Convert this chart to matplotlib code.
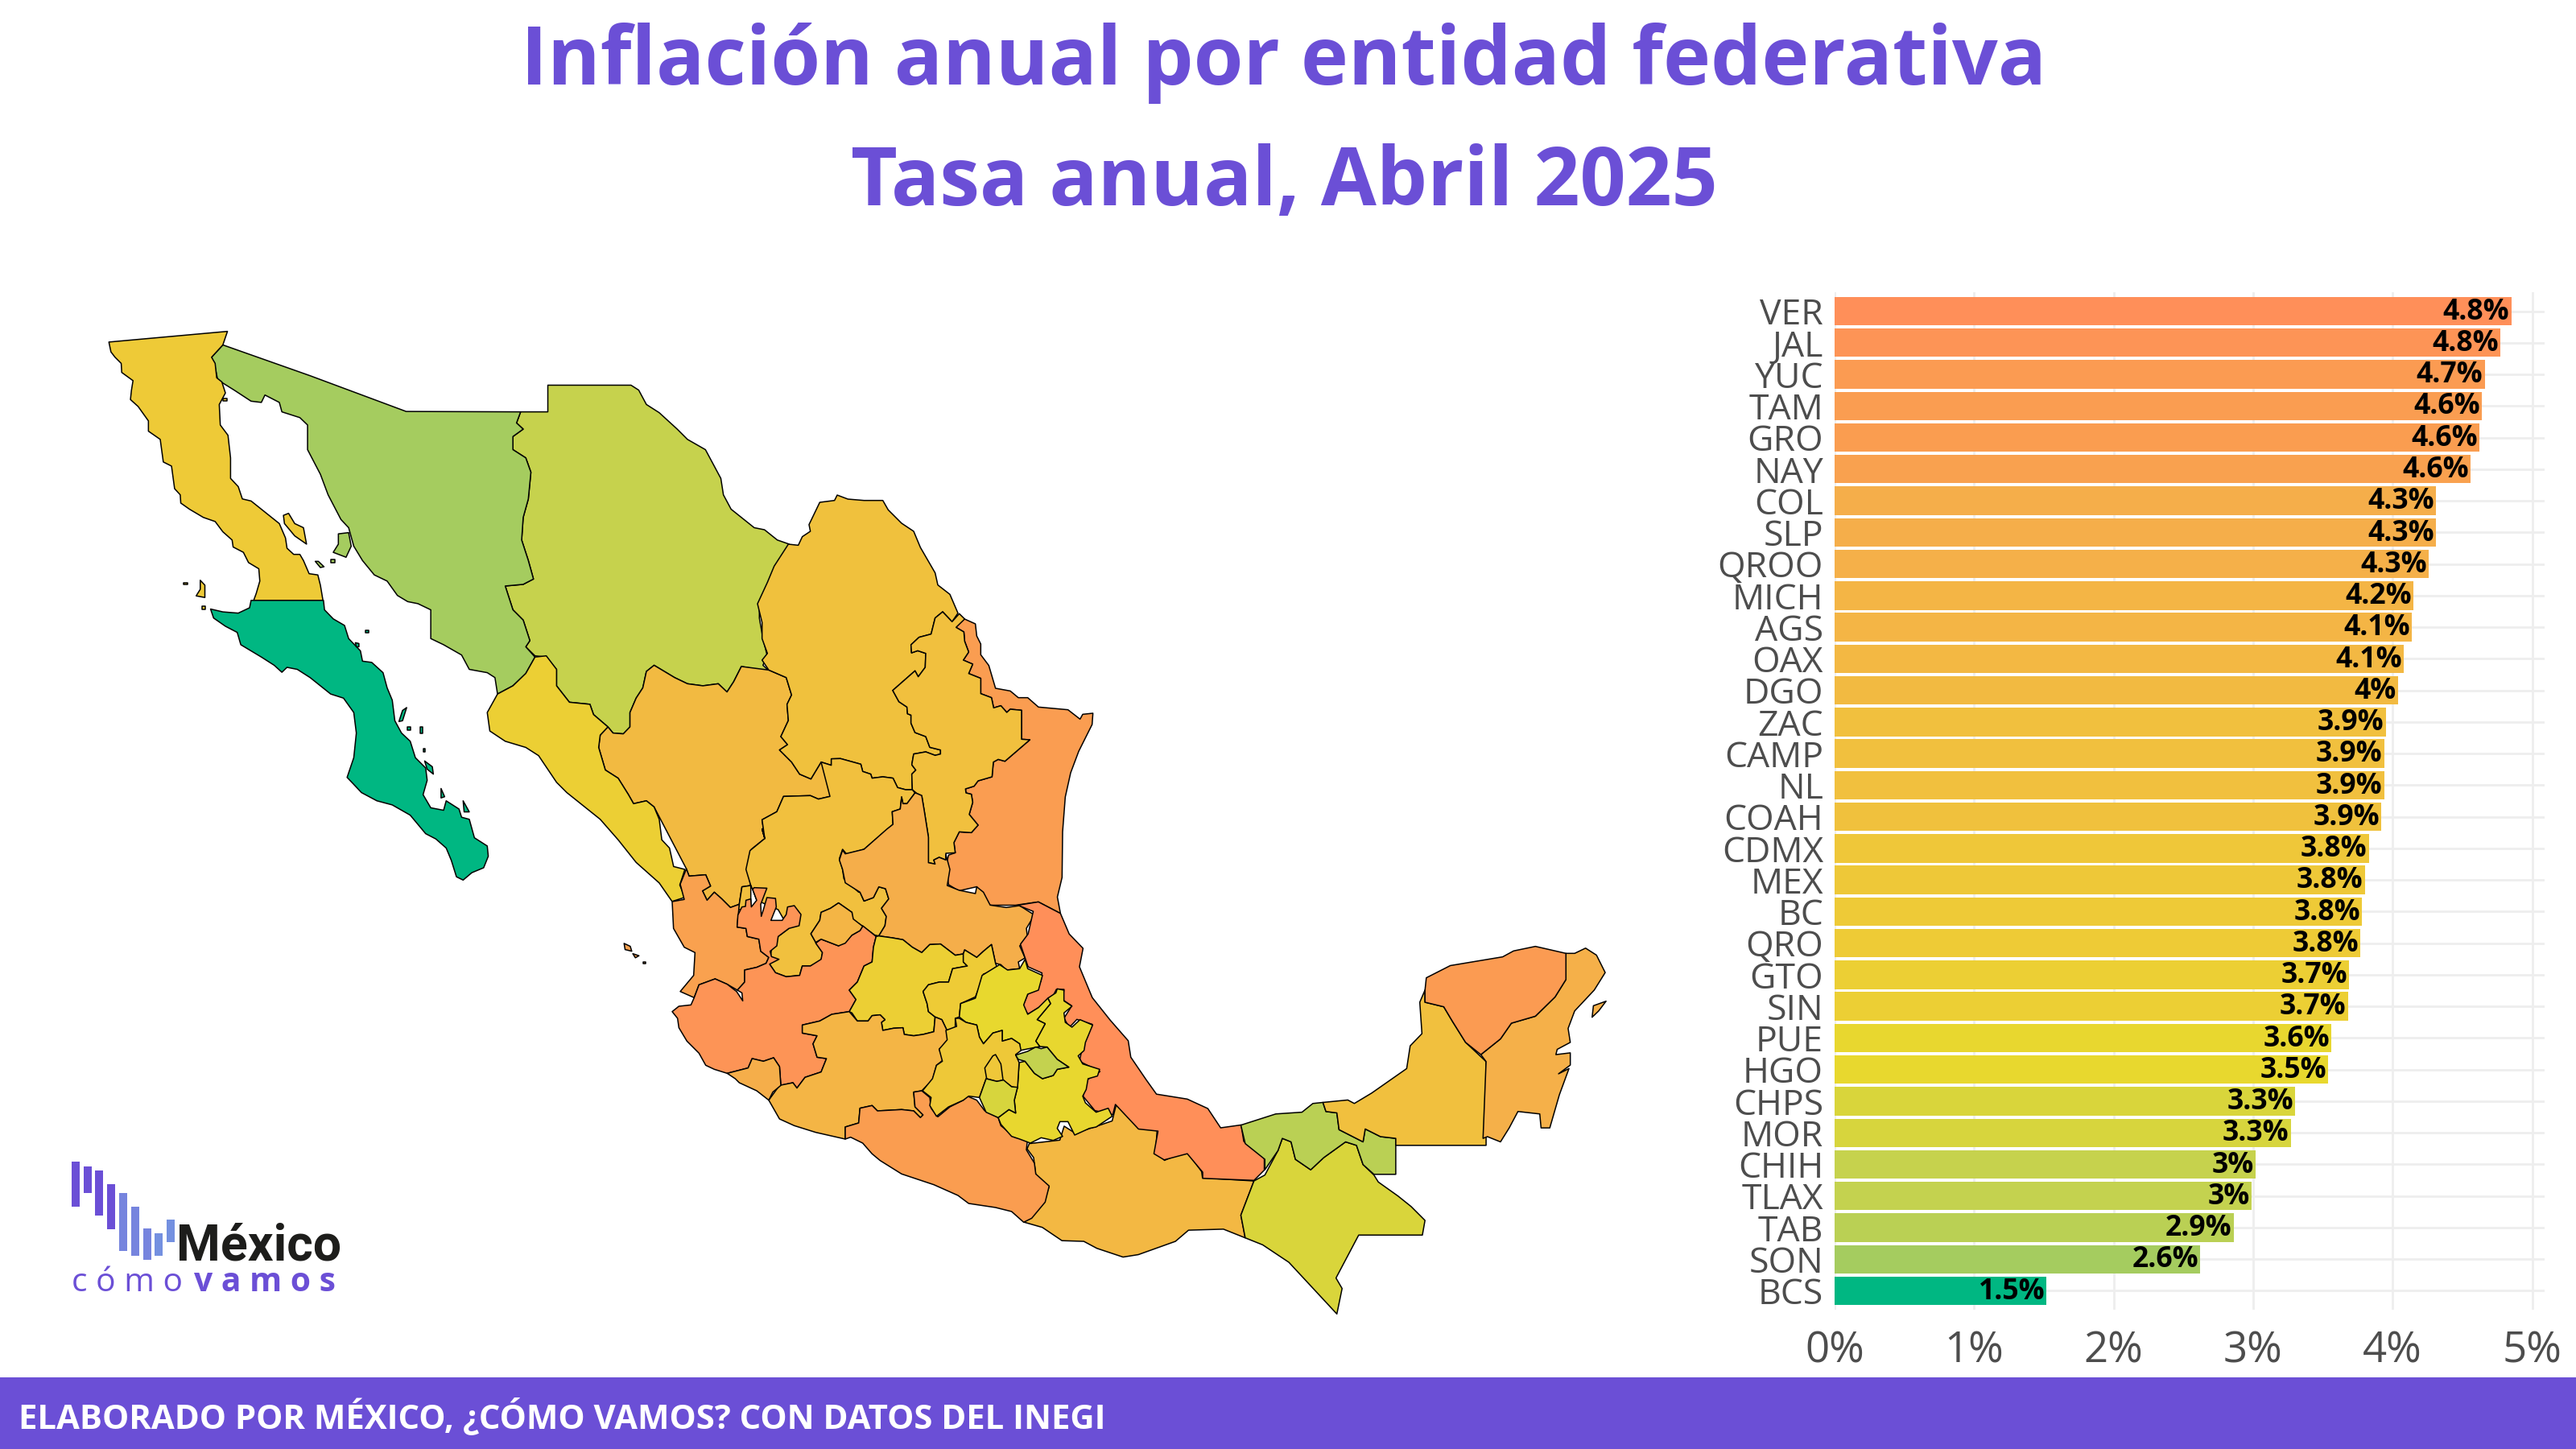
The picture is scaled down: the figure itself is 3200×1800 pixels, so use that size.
import matplotlib
matplotlib.use("Agg")
import matplotlib.pyplot as plt
from matplotlib.colors import LinearSegmentedColormap, Normalize
from matplotlib.patches import Polygon, Rectangle


def traced(x0, y0, sx, sy):
    return lambda pts: [(x0 + x / sx, y0 + y / sy) for x, y in pts]


z1 = traced(60, 380, 1.568, 1.96)
z2 = traced(700, 900, 1.568, 1.96)
z3 = traced(1200, 1000, 1.845, 2.306)
z7 = traced(840, 600, 3, 3)
z8 = traced(800, 1030, 3, 3)
z9 = traced(1060, 1180, 3, 3)

# bars, sorted as in the chart
states = ["VER", "JAL", "YUC", "TAM", "GRO", "NAY", "COL", "SLP", "QROO", "MICH", "AGS",
          "OAX", "DGO", "ZAC", "CAMP", "NL", "COAH", "CDMX", "MEX", "BC", "QRO", "GTO",
          "SIN", "PUE", "HGO", "CHPS", "MOR", "CHIH", "TLAX", "TAB", "SON", "BCS"]
inflation = [4.85, 4.77, 4.66, 4.64, 4.62, 4.56, 4.31, 4.31, 4.26, 4.15, 4.14,
             4.08, 4.04, 3.95, 3.94, 3.94, 3.92, 3.83, 3.80, 3.78, 3.77, 3.69,
             3.68, 3.56, 3.54, 3.30, 3.27, 3.02, 2.99, 2.86, 2.62, 1.52]
value_labels = ["4.8%", "4.8%", "4.7%", "4.6%", "4.6%", "4.6%", "4.3%", "4.3%", "4.3%", "4.2%", "4.1%",
                "4.1%", "4%", "3.9%", "3.9%", "3.9%", "3.9%", "3.8%", "3.8%", "3.8%", "3.8%", "3.7%",
                "3.7%", "3.6%", "3.5%", "3.3%", "3.3%", "3%", "3%", "2.9%", "2.6%", "1.5%"]
x_ticks = [0, 1, 2, 3, 4, 5]
x_tick_labels = ["0%", "1%", "2%", "3%", "4%", "5%"]

# colour scale of the chart
scale_values = [1.52, 2.62, 2.99, 3.30, 3.54, 3.78, 4.08, 4.31, 4.62, 4.85]
scale_colors = ["#00B782", "#A5CC5F", "#C4D24F", "#D9D53B", "#E8D82E", "#EECA37",
                "#F3B843", "#F5AE4A", "#FA9E50", "#FF8F59"]

TITLE_1 = "Inflación anual por entidad federativa"
TITLE_2 = "Tasa anual, Abril 2025"
FOOTER = "ELABORADO POR MÉXICO, ¿CÓMO VAMOS? CON DATOS DEL INEGI"

# state outlines
BC = z1([(118, 88), (349, 62), (340, 95), (318, 125), (325, 140), (328, 175), (338, 185), (345, 212), (333, 240),
         (335, 290), (350, 315), (355, 370), (355, 420), (370, 440), (378, 470), (395, 475), (420, 500), (450, 530),
         (462, 565), (465, 590), (478, 605), (490, 605), (497, 620), (508, 652), (525, 655), (530, 680), (535, 717),
         (400, 717), (405, 700), (412, 670), (410, 640), (390, 625), (380, 600), (360, 587), (358, 570), (340, 550),
         (325, 525), (302, 515), (275, 495), (258, 480), (257, 460), (246, 445), (240, 390), (224, 380), (218, 325),
         (195, 305), (195, 280), (175, 245), (160, 228), (162, 205), (165, 182), (143, 162), (142, 140), (130, 125),
         (122, 112)])
BC_ISLANDS = [z1([(458, 510), (468, 505), (480, 530), (497, 540), (503, 580), (480, 560), (460, 530)]),
              z1([(296, 668), (305, 680), (305, 710), (288, 706), (296, 690)]),
              z1([(264, 674), (271, 674), (271, 678), (264, 678)]),
              z1([(341, 225), (348, 225), (348, 231), (341, 231)]),
              z1([(300, 732), (306, 732), (306, 738), (300, 738)])]
BCS = z1([(316, 738), (340, 745), (370, 748), (392, 735), (395, 717), (536, 717), (538, 740), (555, 762), (577, 778),
          (585, 810), (608, 840), (612, 865), (630, 868), (652, 893), (660, 930), (670, 960), (675, 1010), (688, 1040),
          (705, 1060), (715, 1100), (735, 1125), (738, 1155), (730, 1190), (745, 1222), (770, 1228), (775, 1205),
          (800, 1225), (805, 1245), (820, 1250), (830, 1295), (855, 1315), (857, 1340), (848, 1368), (825, 1380),
          (808, 1398), (795, 1390), (785, 1350), (775, 1320), (755, 1298), (735, 1285), (705, 1240), (670, 1215),
          (640, 1205), (610, 1185), (595, 1165), (582, 1148), (595, 1100), (600, 1040), (595, 990), (575, 955),
          (550, 945), (510, 905), (485, 885), (465, 880), (455, 892), (440, 875), (415, 855), (375, 825), (368, 795),
          (345, 780), (322, 760)])
BCS_ISLANDS = [z1([(690, 985), (698, 978), (690, 1010), (683, 1012)]),
               z1([(733, 1108), (748, 1122), (750, 1140), (738, 1128)]),
               z1([(765, 1175), (772, 1195), (765, 1198)]),
               z1([(808, 1205), (820, 1232), (810, 1232)]),
               z1([(598, 820), (605, 822), (605, 830), (600, 830)]),
               z1([(618, 790), (624, 790), (624, 796), (618, 796)]),
               z1([(700, 1025), (706, 1025), (706, 1033), (700, 1033)]),
               z1([(725, 1025), (729, 1025), (729, 1040), (725, 1040)]),
               z1([(730, 1078), (734, 1078), (734, 1085), (730, 1085)])]
SON = z1([(340, 95), (510, 170), (697, 257), (920, 258), (912, 285), (925, 300), (905, 318), (905, 350), (930, 370),
          (940, 405), (935, 470), (925, 515), (922, 570), (935, 620), (945, 665), (925, 678), (890, 682), (905, 740),
          (925, 765), (938, 815), (930, 830), (948, 855), (930, 895), (905, 925), (890, 935), (875, 945), (870, 905),
          (855, 893), (820, 885), (805, 850), (770, 825), (745, 810), (745, 740), (720, 725), (700, 720), (680, 705),
          (660, 670), (635, 655), (612, 620), (595, 585), (585, 540), (570, 520), (545, 460), (530, 410), (505, 350),
          (505, 290), (490, 272), (455, 258), (450, 235), (422, 217), (415, 235), (395, 232), (362, 205), (330, 180),
          (325, 150), (318, 125)])
SON_ISLANDS = [z1([(565, 555), (585, 552), (590, 585), (580, 612), (555, 600), (565, 580)]),
               z1([(520, 622), (526, 622), (537, 635), (530, 637)]),
               z1([(550, 617), (558, 617), (558, 625), (550, 625)])]
CHIH = z1([(920, 258), (973, 258), (973, 193), (1135, 193), (1150, 205), (1165, 240), (1190, 260), (1225, 300),
           (1245, 325), (1280, 350), (1295, 385), (1310, 420), (1315, 460), (1330, 495), (1355, 520), (1375, 540),
           (1395, 545), (1420, 570), (1443, 580), (1420, 630), (1400, 680), (1385, 720), (1385, 760), (1392, 810),
           (1400, 850), (1392, 875), (1405, 890), (1350, 878), (1335, 915), (1322, 940), (1305, 920), (1275, 925),
           (1245, 920), (1220, 905), (1180, 875), (1165, 890), (1158, 930), (1145, 955), (1133, 990), (1133, 1025),
           (1120, 1042), (1100, 1040), (1090, 1025), (1062, 995), (1055, 970), (1015, 965), (990, 925), (990, 885),
           (970, 855), (948, 852), (930, 830), (938, 815), (925, 765), (905, 740), (890, 682), (925, 678), (945, 665),
           (935, 620), (922, 570), (925, 515), (935, 470), (940, 405), (930, 370), (905, 350), (905, 318), (925, 300),
           (912, 285)])
SIN = z1([(948, 855), (970, 852), (990, 885), (990, 925), (1015, 965), (1055, 970), (1062, 995), (1090, 1025),
          (1075, 1045), (1072, 1075), (1085, 1130), (1110, 1150), (1130, 1190), (1140, 1212), (1165, 1205),
          (1180, 1220), (1190, 1250), (1195, 1300), (1210, 1320), (1218, 1365), (1240, 1372), (1230, 1410),
          (1240, 1440), (1215, 1450), (1190, 1405), (1145, 1355), (1110, 1300), (1075, 1250), (1045, 1220),
          (1010, 1185), (990, 1160), (955, 1095), (930, 1075), (890, 1060), (860, 1035), (855, 990), (875, 945),
          (905, 925), (930, 895)])
DGO = (z7([(345, 697), (410, 725), (430, 790), (413, 825), (418, 885), (390, 945), (415, 975), (385, 995), (430, 1040),
           (460, 1085), (502, 1103), (540, 1040), (578, 1052), (573, 1168), (530, 1178), (500, 1165), (400, 1168),
           (375, 1225), (320, 1255), (330, 1325), (280, 1365), (265, 1440), (278, 1500)])
       + z8([(398, 210), (365, 215), (355, 280), (322, 292), (290, 260), (262, 235), (235, 265), (218, 230), (248, 212),
             (230, 170), (168, 175), (158, 148)])
       + z1([(1180, 1220), (1165, 1205), (1140, 1212), (1130, 1190), (1110, 1150), (1085, 1130), (1072, 1075),
             (1075, 1045), (1090, 1025), (1100, 1040), (1120, 1042), (1133, 1025), (1133, 990), (1145, 955),
             (1158, 930), (1165, 890), (1180, 875), (1220, 905), (1245, 920), (1275, 925), (1305, 920), (1322, 940),
             (1335, 915), (1350, 878)]))
COAH = z7([(345, 697), (320, 660), (340, 635), (320, 580), (320, 520), (303, 450), (340, 370), (365, 310), (418, 228),
           (455, 232), (470, 200), (500, 180), (495, 155), (535, 72), (590, 65), (600, 45), (640, 60), (700, 65),
           (770, 65), (790, 100), (840, 150), (885, 180), (910, 240), (965, 335), (975, 380), (1020, 415), (1050, 485),
           (1028, 517), (993, 480), (965, 503), (950, 563), (905, 575), (875, 603), (877, 633), (900, 625), (930, 635),
           (928, 687), (902, 722), (890, 700), (807, 773), (830, 815), (860, 835), (862, 860), (875, 865), (875, 895),
           (890, 930), (930, 945), (945, 985), (985, 995), (985, 1010), (965, 1015), (930, 1002), (885, 1010),
           (878, 1050), (893, 1070), (878, 1085), (880, 1143), (855, 1143), (825, 1135), (808, 1100), (770, 1095),
           (730, 1100), (725, 1085), (695, 1075), (688, 1048), (612, 1027), (578, 1028), (578, 1052), (540, 1040),
           (502, 1103), (460, 1085), (430, 1040), (385, 995), (415, 975), (390, 945), (418, 885), (413, 825),
           (430, 790), (410, 725)])
TAM = (z7([(1055, 490), (1075, 507), (1115, 525), (1120, 570), (1135, 600), (1135, 640), (1165, 680), (1190, 765),
           (1245, 775), (1275, 800), (1310, 800), (1350, 835), (1460, 845), (1505, 880), (1515, 862), (1553, 858),
           (1550, 900), (1500, 1000), (1470, 1080), (1450, 1170), (1440, 1300), (1438, 1470)])
       + z2([(962, 420), (968, 460), (925, 432), (880, 440), (830, 440), (805, 395), (770, 405), (750, 390), (745, 345),
             (750, 318)])
       + z7([(1040, 1378), (1035, 1340), (1055, 1300), (1100, 1303), (1125, 1275), (1092, 1235), (1105, 1190),
             (1100, 1160), (1080, 1155), (1078, 1140), (1110, 1130), (1125, 1110), (1177, 1095), (1182, 1040),
             (1200, 1030), (1225, 1037), (1318, 957), (1287, 955), (1287, 847), (1245, 843), (1232, 855), (1210, 830),
             (1183, 838), (1175, 800), (1135, 785), (1135, 728), (1090, 710), (1105, 675), (1070, 660), (1090, 630),
             (1075, 590), (1072, 555), (1043, 538)]))
NL = z7([(1055, 487), (1075, 507), (1043, 538), (1072, 555), (1075, 590), (1090, 630), (1070, 660), (1105, 675),
         (1090, 710), (1135, 728), (1135, 785), (1175, 800), (1183, 838), (1210, 830), (1232, 855), (1245, 843),
         (1287, 847), (1287, 955), (1318, 957), (1225, 1037), (1200, 1030), (1182, 1040), (1177, 1095), (1125, 1110),
         (1110, 1130), (1078, 1140), (1080, 1155), (1100, 1160), (1105, 1190), (1092, 1235), (1125, 1275), (1100, 1303),
         (1055, 1300), (1035, 1340), (1040, 1378), (1005, 1380), (1005, 1405), (980, 1395), (960, 1405), (965, 1420),
         (940, 1415), (940, 1320), (925, 1225), (915, 1165), (897, 1157), (880, 1143), (878, 1085), (893, 1070),
         (878, 1050), (885, 1010), (930, 1002), (965, 1015), (985, 1010), (985, 995), (945, 985), (930, 945),
         (890, 930), (875, 895), (875, 865), (862, 860), (860, 835), (830, 815), (807, 773), (890, 700), (902, 722),
         (928, 687), (930, 635), (900, 625), (877, 633), (875, 603), (905, 575), (950, 563), (965, 503), (993, 480),
         (1028, 517)])
ZAC = (z7([(540, 1040), (578, 1052), (578, 1028), (612, 1027), (688, 1048), (695, 1075), (725, 1085), (730, 1100),
           (770, 1095), (808, 1100), (825, 1135), (855, 1143), (880, 1143), (890, 1155), (860, 1195), (845, 1195),
           (840, 1170), (835, 1215), (805, 1225), (808, 1272), (700, 1365), (635, 1383), (620, 1365), (608, 1400),
           (620, 1440), (625, 1475), (680, 1525)])
       + z8([(805, 235), (820, 268), (855, 255), (875, 215), (900, 222), (912, 260), (885, 295), (903, 325), (898, 360),
             (875, 398), (860, 395), (815, 362), (775, 335), (775, 310), (725, 275), (695, 295), (660, 310), (655, 340),
             (622, 390), (640, 422), (665, 460), (660, 490), (620, 510), (590, 510), (580, 545), (530, 550), (490, 535),
             (468, 503), (475, 450), (500, 400), (540, 370), (500, 300), (420, 265), (405, 225), (398, 210), (365, 215),
             (355, 280), (350, 300), (398, 300), (398, 210), (380, 150), (395, 80), (450, 35), (440, 0)])
       + z7([(330, 1325), (320, 1255), (375, 1225), (400, 1168), (500, 1165), (530, 1178), (573, 1168)]))
NAY = z8([(158, 148), (168, 175), (230, 170), (248, 212), (218, 230), (235, 265), (262, 235), (290, 260), (322, 292),
          (355, 280), (347, 365), (380, 370), (385, 400), (428, 410), (435, 455), (465, 478), (455, 500), (420, 515),
          (375, 525), (375, 570), (348, 600), (310, 578), (265, 558), (205, 580), (187, 628), (135, 605), (185, 545),
          (190, 460), (150, 440), (110, 370), (105, 270), (150, 262), (135, 205)])
NAY_ISLANDS = [z2([(118, 533), (130, 540), (133, 552), (120, 548)]), z2([(135, 558), (147, 563), (140, 568)]),
               z2([(155, 578), (160, 578), (160, 583), (155, 583)])]
JAL = z8([(815, 360), (865, 400), (855, 440), (850, 495), (820, 510), (795, 570), (765, 600), (790, 635), (765, 680),
          (700, 690), (655, 715), (590, 730), (590, 760), (645, 770), (630, 800), (645, 850), (680, 855), (660, 905),
          (600, 925), (570, 965), (555, 945), (510, 955), (505, 885), (483, 852), (445, 865), (403, 855), (388, 890),
          (310, 910), (262, 895), (230, 880), (205, 835), (160, 790), (130, 740), (125, 705), (105, 680), (130, 660),
          (175, 655), (187, 628), (205, 580), (265, 558), (310, 578), (345, 605), (368, 640), (365, 610), (348, 600),
          (375, 570), (375, 525), (420, 515), (455, 500), (465, 478), (435, 455), (428, 410), (385, 400), (380, 370),
          (347, 365), (350, 320), (365, 290), (378, 288), (380, 265), (398, 260), (400, 290), (420, 265), (405, 225),
          (410, 218), (458, 220), (435, 280), (437, 325), (445, 300), (458, 255), (490, 258), (493, 290), (473, 340),
          (515, 340), (530, 318), (535, 290), (560, 285), (585, 318), (578, 360), (540, 370), (500, 400), (495, 435),
          (470, 455), (475, 475), (503, 485), (468, 503), (490, 535), (530, 550), (580, 545), (590, 510), (620, 510),
          (660, 485), (665, 460), (640, 425), (660, 410), (725, 435), (775, 395), (805, 378)])
AGS = z8([(725, 275), (775, 310), (780, 335), (815, 362), (805, 378), (775, 395), (750, 425), (725, 435), (660, 410),
          (640, 422), (622, 390), (655, 340), (660, 310), (695, 295)])
SLP = (z7([(890, 1155), (897, 1157), (915, 1165), (925, 1225), (940, 1320), (940, 1415), (965, 1420), (960, 1405),
           (980, 1395), (1005, 1405)])
       + z8([(1125, 95), (1140, 150), (1130, 210), (1175, 228), (1235, 240), (1240, 215), (1265, 235), (1290, 283),
             (1350, 292), (1400, 285), (1455, 320), (1425, 370), (1430, 410), (1400, 435), (1420, 480), (1395, 495),
             (1400, 520), (1350, 525), (1330, 505), (1310, 500), (1295, 430), (1265, 455), (1240, 478), (1195, 450),
             (1190, 465), (1160, 470), (1105, 428), (1065, 430), (1035, 460), (1000, 440), (965, 412), (925, 405),
             (875, 398), (898, 360), (903, 325), (885, 295), (912, 260), (900, 222), (875, 215), (855, 255), (820, 268),
             (805, 235), (750, 200), (740, 150), (728, 115), (740, 78), (750, 92), (820, 75), (905, 0)])
       + z7([(808, 1272), (805, 1225), (835, 1215), (840, 1170), (845, 1195), (860, 1195)]))
GTO = z8([(875, 398), (925, 405), (965, 412), (1000, 440), (1035, 460), (1065, 430), (1105, 428), (1160, 470),
          (1190, 465), (1190, 495), (1205, 510), (1150, 520), (1135, 570), (1100, 570), (1060, 580), (1040, 605),
          (1055, 650), (1060, 680), (1085, 700), (1080, 755), (1040, 765), (1005, 770), (970, 765), (965, 740),
          (930, 742), (890, 750), (885, 720), (898, 710), (880, 692), (850, 695), (835, 715), (795, 715), (775, 685),
          (765, 680), (790, 635), (765, 600), (795, 570), (820, 510), (850, 495), (855, 440), (865, 400)])
QRO = z8([(1190, 465), (1195, 450), (1240, 478), (1265, 455), (1295, 430), (1310, 500), (1320, 525), (1265, 540),
          (1255, 575), (1235, 625), (1180, 650), (1175, 700), (1160, 705), (1160, 745), (1130, 752), (1110, 710),
          (1085, 700), (1060, 680), (1055, 650), (1040, 605), (1060, 580), (1100, 570), (1135, 570), (1150, 520),
          (1205, 510), (1190, 495)])
HGO = z9([(545, 55), (575, 75), (620, 70), (640, 35), (650, 70), (705, 95), (690, 150), (650, 165), (635, 205),
          (650, 240), (690, 215), (725, 180), (735, 200), (685, 260), (715, 275), (680, 340), (695, 360), (620, 375),
          (620, 350), (590, 330), (555, 340), (555, 300), (520, 310), (485, 350), (470, 325), (460, 280), (420, 270),
          (395, 250), (400, 200), (455, 180), (480, 95)])
MEX = z9([(395, 255), (420, 270), (460, 280), (470, 325), (485, 350), (520, 310), (555, 300), (555, 340), (590, 330),
          (620, 350), (625, 375), (605, 390), (618, 420), (612, 515), (590, 510), (560, 487), (495, 480), (470, 550),
          (430, 545), (410, 560), (355, 585), (310, 620), (285, 580), (290, 550), (258, 525), (295, 480), (310, 430),
          (332, 415), (320, 370), (350, 335), (345, 300), (385, 285), (380, 255)])
CDMX = z9([(490, 440), (520, 395), (530, 390), (550, 425), (558, 485), (535, 490), (497, 480)])
MOR = z9([(470, 550), (495, 480), (535, 490), (560, 485), (590, 510), (612, 512), (600, 560), (605, 608), (580, 595),
          (540, 625), (495, 605)])
TLAX = z9([(605, 392), (650, 378), (680, 362), (700, 368), (722, 362), (760, 408), (803, 437), (760, 445), (745, 468),
           (705, 480), (675, 460), (640, 415), (615, 408)])
PUE = z9([(760, 145), (785, 150), (785, 190), (815, 210), (785, 235), (790, 270), (815, 288), (845, 260), (892, 280),
          (865, 345), (860, 375), (838, 395), (855, 425), (918, 445), (910, 470), (875, 480), (868, 520), (855, 545),
          (865, 570), (905, 605), (950, 590), (965, 620), (905, 660), (880, 665), (825, 690), (800, 640), (770, 640),
          (760, 665), (780, 695), (745, 710), (700, 700), (660, 720), (620, 705), (590, 695), (550, 650), (540, 625),
          (580, 595), (605, 608), (600, 560), (612, 512), (618, 420), (640, 415), (675, 460), (705, 480), (745, 468),
          (760, 445), (803, 437), (760, 408), (722, 362), (695, 360), (680, 340), (715, 275), (685, 260), (735, 200),
          (725, 180), (755, 160)])
VER = z2([(968, 460), (985, 510), (1012, 545), (1005, 590), (1030, 665), (1065, 720), (1100, 770), (1105, 810),
          (1135, 865), (1155, 900), (1215, 912), (1255, 935), (1280, 982), (1320, 975), (1325, 1015), (1365, 1055),
          (1365, 1085), (1345, 1110), (1245, 1105), (1245, 1090), (1215, 1045), (1170, 1060), (1150, 1045), (1158, 990),
          (1120, 985), (1075, 925), (1070, 950), (1035, 940), (1012, 905), (1020, 865), (1045, 845), (1005, 820),
          (1010, 790), (1030, 730), (1000, 718), (985, 738), (975, 715), (990, 685), (972, 670), (975, 645), (960, 645),
          (950, 670), (905, 705), (893, 690), (905, 655), (930, 625), (932, 605), (905, 590), (890, 535), (905, 510),
          (915, 455), (885, 440), (925, 432)])
GRO = z8([(1005, 980), (1035, 975), (1065, 1000), (1070, 1040), (1095, 1072), (1140, 1035), (1190, 1010), (1205, 995),
          (1240, 1010), (1270, 1050), (1320, 1075), (1330, 1105), (1385, 1150), (1430, 1150), (1425, 1195), (1455, 1245),
          (1460, 1285), (1510, 1330), (1495, 1390), (1470, 1420), (1445, 1450), (1415, 1465), (1370, 1425), (1310, 1410),
          (1210, 1395), (1170, 1365), (1080, 1325), (960, 1285), (880, 1235), (850, 1210), (815, 1170), (770, 1148),
          (750, 1155), (750, 1110), (800, 1095), (805, 1040), (850, 1030), (870, 1050), (960, 1045), (1005, 1050),
          (1030, 1075), (1040, 1065), (1010, 1035)])
MICH = z8([(590, 730), (655, 715), (700, 690), (765, 680), (795, 715), (835, 715), (850, 695), (880, 692), (898, 710),
           (885, 720), (890, 750), (930, 742), (965, 740), (970, 765), (1005, 770), (1040, 765), (1080, 755), (1085, 700),
           (1110, 710), (1130, 752), (1135, 790), (1100, 820), (1115, 860), (1090, 880), (1075, 935), (1035, 975),
           (1005, 980), (1010, 1035), (1040, 1065), (1030, 1075), (1005, 1050), (960, 1045), (870, 1050), (850, 1030),
           (805, 1040), (800, 1095), (750, 1110), (750, 1155), (640, 1130), (560, 1105), (505, 1080), (465, 1010),
           (505, 955), (555, 945), (570, 965), (600, 925), (660, 905), (680, 855), (645, 850), (630, 800), (645, 770),
           (590, 760)])
COL = z8([(310, 910), (388, 890), (403, 855), (445, 865), (483, 852), (505, 885), (510, 955), (480, 980), (465, 1010),
          (420, 975), (355, 945), (340, 930)])
OAX = z3([(145, 970), (215, 960), (225, 920), (250, 940), (300, 920), (335, 905), (345, 855), (370, 870), (395, 925),
          (438, 930), (435, 990), (455, 1018), (505, 990), (540, 1050), (542, 1068), (660, 1077), (630, 1175), (640, 1240),
          (590, 1215), (510, 1218), (480, 1250), (395, 1288), (360, 1295), (300, 1270), (270, 1250), (220, 1248),
          (175, 1210), (133, 1195), (150, 1165), (180, 1130), (190, 1095), (160, 1060), (155, 1010), (140, 985)])
CHPS = z3([(660, 1077), (685, 1060), (715, 990), (725, 955), (745, 965), (755, 1015), (790, 1045), (820, 1010),
           (870, 965), (895, 975), (910, 1030), (935, 1060), (945, 1080), (990, 1120), (1020, 1150), (1052, 1190),
           (1046, 1232), (900, 1232), (848, 1355), (862, 1385), (850, 1458), (740, 1310), (680, 1260), (640, 1240),
           (630, 1175)])
TAB = z3([(630, 917), (710, 885), (770, 880), (795, 855), (818, 852), (825, 878), (850, 882), (855, 930), (910, 965),
          (915, 928), (950, 950), (985, 955), (985, 1058), (935, 1058), (910, 1030), (895, 975), (870, 965), (820, 1010),
          (790, 1045), (755, 1015), (745, 965), (725, 955), (715, 990), (685, 1045), (685, 1015), (640, 970)])
CAMP = z3([(818, 852), (875, 845), (890, 855), (930, 825), (1010, 755), (1018, 690), (1045, 655), (1040, 565), (1052, 530),
           (1052, 565), (1095, 578), (1115, 620), (1145, 680), (1192, 735), (1192, 975), (985, 975), (985, 955), (950, 950),
           (915, 928), (910, 965), (855, 930), (850, 882), (825, 878)])
YUC = z3([(1052, 530), (1055, 495), (1110, 460), (1230, 435), (1255, 418), (1305, 405), (1375, 425), (1375, 500),
          (1350, 550), (1305, 605), (1250, 625), (1225, 670), (1180, 715), (1145, 680), (1115, 620), (1095, 578),
          (1052, 565)])
QROO = z3([(1375, 425), (1395, 425), (1420, 410), (1445, 430), (1465, 480), (1440, 530), (1395, 590), (1380, 640),
           (1385, 680), (1355, 700), (1352, 715), (1385, 710), (1385, 745), (1358, 770), (1382, 755), (1360, 830),
           (1338, 925), (1318, 925), (1315, 885), (1265, 878), (1245, 925), (1225, 965), (1195, 950), (1185, 955),
           (1192, 735), (1180, 715), (1225, 670), (1250, 625), (1305, 605), (1350, 550), (1375, 500)])
QROO_ISLANDS = [z3([(1438, 575), (1467, 562), (1450, 590), (1435, 608)])]

# later entries paint over earlier ones, that hides small mismatches along the borders
map_shapes = [("CHIH", CHIH), ("DGO", DGO), ("COAH", COAH), ("SON", SON), ("BC", BC), ("BCS", BCS), ("SIN", SIN),
              ("TAM", TAM), ("NL", NL), ("ZAC", ZAC), ("NAY", NAY), ("SLP", SLP), ("JAL", JAL), ("AGS", AGS),
              ("GTO", GTO), ("QRO", QRO), ("MICH", MICH), ("COL", COL), ("OAX", OAX), ("GRO", GRO), ("VER", VER),
              ("PUE", PUE), ("HGO", HGO), ("MEX", MEX), ("CDMX", CDMX), ("MOR", MOR), ("TLAX", TLAX), ("CHPS", CHPS),
              ("TAB", TAB), ("CAMP", CAMP), ("QROO", QROO), ("YUC", YUC)]
map_shapes += [("BC", s) for s in BC_ISLANDS] + [("BCS", s) for s in BCS_ISLANDS] + [("SON", s) for s in SON_ISLANDS]
map_shapes += [("NAY", s) for s in NAY_ISLANDS] + [("QROO", s) for s in QROO_ISLANDS]

PURPLE = "#6B4FD6"
plt.rcParams["font.family"] = ["Open Sans", "DejaVu Sans"]

norm = Normalize(min(scale_values), max(scale_values))
cmap = LinearSegmentedColormap.from_list("inflacion", [(norm(v), c) for v, c in zip(scale_values, scale_colors)])
value_by_state = dict(zip(states, inflation))

fig = plt.figure(figsize=(16, 9), dpi=200)

# whole figure as one pixel-sized axes for the map, headline, logo and footer
bg = fig.add_axes([0, 0, 1, 1])
bg.set_xlim(0, 3200)
bg.set_ylim(1800, 0)
bg.axis("off")

for name, outline in map_shapes:
    bg.add_patch(Polygon(outline, closed=True, facecolor=cmap(norm(value_by_state[name])),
                         edgecolor="black", linewidth=0.55, joinstyle="round"))

bg.text(1595, 78, TITLE_1, color=PURPLE, fontsize=36, fontweight="bold", ha="center", va="center")
bg.text(1595, 229, TITLE_2, color=PURPLE, fontsize=36, fontweight="bold", ha="center", va="center")

bg.add_patch(Rectangle((0, 1711), 3200, 89, facecolor=PURPLE, edgecolor="none"))
bg.text(23, 1761, FOOTER, color="white", fontsize=15.1, fontweight="bold", ha="left", va="center")

# logo
logo_x = [89, 104, 118, 133, 148, 163, 178, 192, 207]
logo_top = [1443, 1449, 1454, 1471, 1482, 1499, 1526, 1532, 1515]
logo_bottom = [1499, 1482, 1510, 1527, 1554, 1560, 1565, 1560, 1543]
logo_colors = [PURPLE] * 4 + ["#7684DE"] * 3 + ["#7490E0"] * 2
for x, top, bottom, c in zip(logo_x, logo_top, logo_bottom, logo_colors):
    bg.add_patch(Rectangle((x, top), 9.5, bottom - top, facecolor=c, edgecolor="none"))
bg.text(219, 1565, "México", color="#1D1D1B", fontsize=22.5, fontweight="bold", family="Roboto", ha="left", va="baseline")
bg.text(89, 1604, "c ó m o", color=PURPLE, fontsize=14.7, ha="left", va="baseline")
bg.text(241, 1604, "v a m o s", color=PURPLE, fontsize=14.7, fontweight="bold", ha="left", va="baseline")

# bar chart, ggplot look: 0.6 band of padding on the discrete axis
left, right, top, bottom = 2279, 3161, 363, 1627
ax = fig.add_axes([left / 3200, 1 - bottom / 1800, (right - left) / 3200, (bottom - top) / 1800])
positions = list(range(len(states)))
ax.barh(positions, inflation, height=0.9, color=[cmap(norm(v)) for v in inflation], zorder=3)
ax.set_ylim(len(states) - 0.4, -0.6)
ax.set_xlim(0, (right - left) / 173.3)
ax.set_yticks(positions, states)
ax.set_xticks(x_ticks, x_tick_labels)
ax.grid(True, color="#EEEEEE", linewidth=1.0, zorder=0)
ax.set_axisbelow(True)
for spine in ax.spines.values():
    spine.set_visible(False)
ax.tick_params(axis="both", length=0, labelcolor="#4D4D4D")
ax.tick_params(axis="y", labelsize=16, pad=5)
ax.tick_params(axis="x", labelsize=19, pad=9)

for y, v, label in zip(positions, inflation, value_labels):
    ax.text(v - 0.012, y + 0.03, label, color="black", fontsize=12.8, fontweight="bold",
            ha="right", va="center", zorder=4)

fig.savefig("out.png", dpi=200, facecolor="white")
